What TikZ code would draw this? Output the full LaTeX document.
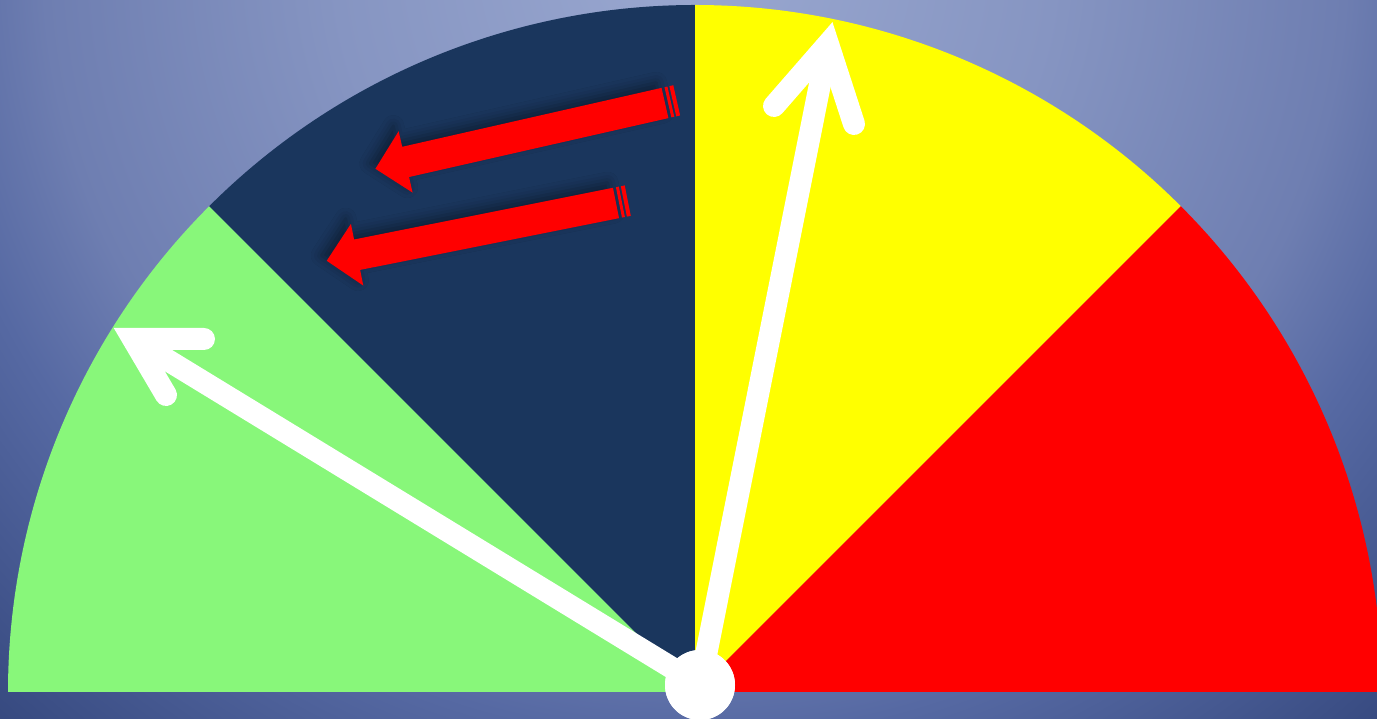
\documentclass[tikz,border=0pt]{standalone}
\usepackage{xcolor}
\usepackage{tikz}
\usetikzlibrary{shadows.blur}
\definecolor{BgLight}{HTML}{9AA8D0}
\definecolor{BgMid}{HTML}{6E7EB1}
\definecolor{BgLow}{HTML}{5669A3}
\definecolor{BgDark}{HTML}{34477D}
\definecolor{SafeGreen}{HTML}{88F77A}
\definecolor{DeepNavy}{HTML}{1A365D}
\definecolor{WarnYellow}{HTML}{FFFF00}
\definecolor{AlarmRed}{HTML}{FF0000}
\pgfdeclareradialshading{gaugebg}{\pgfpoint{0bp}{0bp}}{%
  color(0bp)=(BgLight); color(8.5bp)=(BgLight!55!BgMid);
  color(15.5bp)=(BgMid); color(18.5bp)=(BgLow); color(25bp)=(BgDark);
  color(50bp)=(BgDark)}
\tikzset{
  sector/.style={draw=none},
  needle/.style={draw=white,line width=0.22cm},
  barb/.style={needle,line cap=round,line join=miter},
  hub/.style={circle,fill=white,minimum size=0.70cm,inner sep=0pt},
  redarrow/.style={fill=AlarmRed,
    blur shadow={shadow xshift=-1.5pt,shadow yshift=1.5pt,
      shadow blur radius=3pt,shadow opacity=40}},
}
% striped block arrow: tail point, angle, length
\newcommand{\stripearrow}[3]{%
  \begin{scope}[shift={#1},rotate=#2]
    \fill[redarrow] (0,-0.155) -- (#3-0.31,-0.155) -- (#3-0.31,-0.315)
      -- (#3,0) -- (#3-0.31,0.315) -- (#3-0.31,0.155) -- (0,0.155) -- cycle;
    \fill[AlarmRed] (-0.06,-0.155) rectangle (-0.03,0.155);
    \fill[AlarmRed] (-0.12,-0.155) rectangle (-0.08,0.155);
  \end{scope}}

\begin{document}
\begin{tikzpicture}
  \useasboundingbox (0,0) rectangle (13.77,7.19);
  \clip (0,0) rectangle (13.77,7.19);
  \shade[shading=gaugebg] (6.95,7.60) circle (10.5);
  % gauge
  \coordinate (c) at (6.95,0.27);
  \fill[sector,SafeGreen]  (c) -- ++(180:6.87) arc (180:135:6.87) -- cycle;
  \fill[sector,DeepNavy]   (c) -- ++(135:6.87) arc (135:90:6.87) -- cycle;
  \fill[sector,WarnYellow] (c) -- ++(90:6.87) arc (90:45:6.87) -- cycle;
  \fill[sector,AlarmRed]   (c) -- ++(45:6.87) arc (45:0:6.87) -- cycle;
  % red arrows
  \stripearrow{(6.65,6.16)}{192.8}{2.97}
  \stripearrow{(6.16,5.16)}{191.3}{2.95}
  % needles
  \coordinate (v1) at (1.33,3.80);
  \coordinate (b11) at (2.04,3.80);
  \coordinate (b12) at (1.66,3.24);
  \coordinate (v2) at (8.28,6.75);
  \coordinate (b21) at (7.74,6.13);
  \coordinate (b22) at (8.54,5.95);
  \node[hub] (hub) at (7.00,0.34) {};
  \draw[needle] (hub.center) -- (v1);
  \draw[barb] (b11) -- (v1) -- (b12);
  \draw[needle] (hub.center) -- (v2);
  \draw[barb] (b21) -- (v2) -- (b22);
  \node[hub] at (hub) {};
\end{tikzpicture}
\end{document}
